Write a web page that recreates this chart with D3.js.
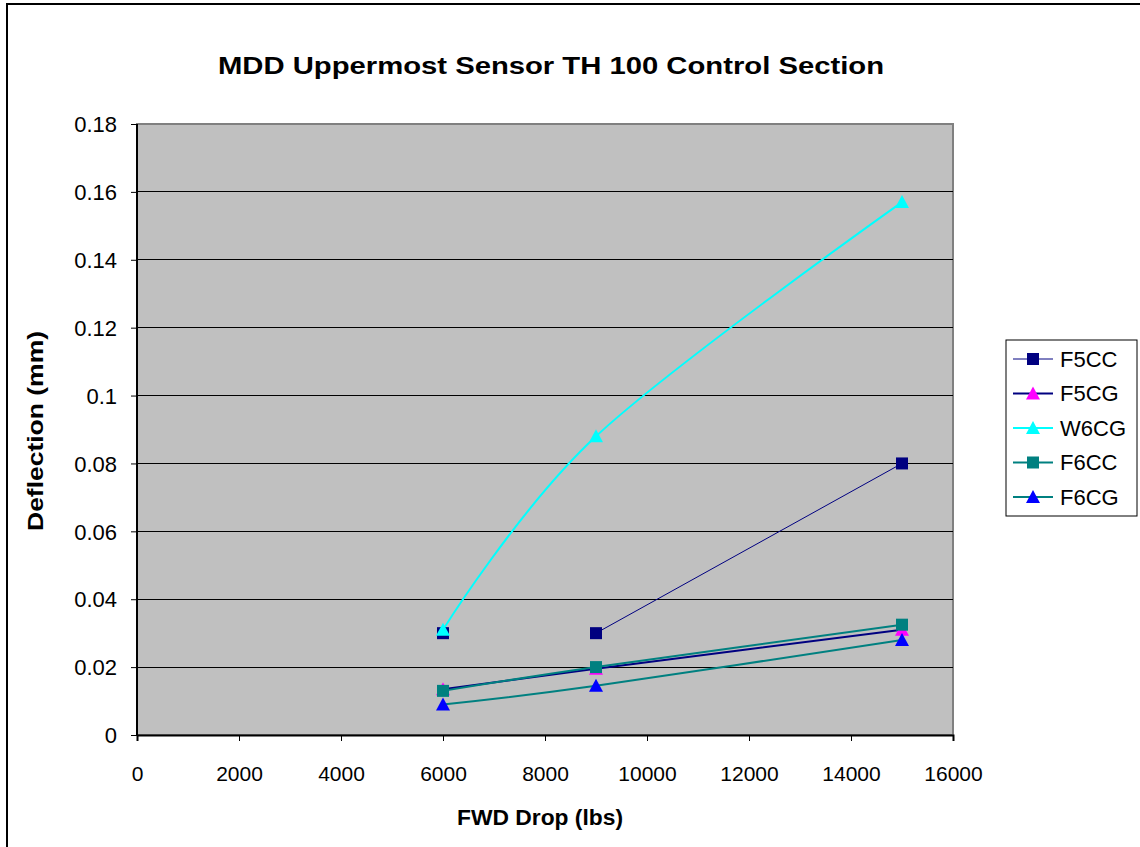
<!DOCTYPE html>
<html>
<head>
<meta charset="utf-8">
<script src="https://cdn.jsdelivr.net/npm/d3@7"></script>
<style>
  body { margin: 0; background: #fff; }
  text { font-family: "Liberation Sans", Arial, sans-serif; }
</style>
</head>
<body>
<div id="container"></div>
<script>
// MDD uppermost sensor deflection vs FWD drop load

const drops = [6000, 9000, 15000]
const seriesNames = ["F5CC", "F5CG", "W6CG", "F6CC", "F6CG"]
const f5cc = [0.030, 0.030, 0.080]
// no line drawn between the first two F5CC points
const f5ccLinked = [false, true, true]
const f5cg = [0.0135, 0.0195, 0.031]
const w6cg = [0.031, 0.088, 0.157]
const f6cc = [0.013, 0.020, 0.0325]
const f6cg = [0.009, 0.0145, 0.028]
const xTicks = [0, 2000, 4000, 6000, 8000, 10000, 12000, 14000, 16000]
const yTicks = [0, 0.02, 0.04, 0.06, 0.08, 0.1, 0.12, 0.14, 0.16, 0.18]

const width = 1140,
    height = 847
const plot = { left: 137, top: 124, right: 953, bottom: 735 }

const series = [
    { values: f5cc, line: "#000080", lineWidth: 1, marker: "square", fill: "#000080" },
    { values: f5cg, line: "#000080", lineWidth: 2, marker: "triangle", fill: "#ff00ff" },
    { values: w6cg, line: "#00ffff", lineWidth: 2, marker: "triangle", fill: "#00ffff" },
    { values: f6cc, line: "#008080", lineWidth: 2, marker: "square", fill: "#008080" },
    { values: f6cg, line: "#008080", lineWidth: 2, marker: "triangle", fill: "#0000ff" },
].map((s, i) => ({ ...s, name: seriesNames[i] }))

const svg = d3.select("#container").append("svg")
    .attr("width", width)
    .attr("height", height)

// outer chart border (only top and left visible in the frame)
svg.append("rect")
    .attr("x", 7).attr("y", 4)
    .attr("width", width + 20).attr("height", height + 20)
    .attr("fill", "#fff")
    .attr("stroke", "#000")
    .attr("stroke-width", 2)

const x = d3.scaleLinear().domain([0, 16000]).range([plot.left, plot.right])
const y = d3.scaleLinear().domain([0, 0.18]).range([plot.bottom, plot.top])

svg.append("rect")
    .attr("x", plot.left).attr("y", plot.top)
    .attr("width", plot.right - plot.left).attr("height", plot.bottom - plot.top)
    .attr("fill", "#c0c0c0")
    .attr("stroke", "#808080")
    .attr("stroke-width", 2)

// gridlines
svg.append("g").selectAll("line")
    .data(yTicks.filter(d => d > 0 && d < 0.18))
    .enter().append("line")
    .attr("x1", plot.left).attr("x2", plot.right)
    .attr("y1", d => y(d)).attr("y2", d => y(d))
    .attr("stroke", "#000")
    .attr("stroke-width", 1)
    .attr("shape-rendering", "crispEdges")

// axes
const yAxis = d3.axisLeft(y).tickValues(yTicks).tickSize(6).tickPadding(14)
    .tickFormat(d => d === 0 ? "0" : d3.format("~g")(d))
const xAxis = d3.axisBottom(x).tickValues(xTicks).tickSize(6).tickPadding(25)
    .tickFormat(d3.format("d"))

const yG = svg.append("g").attr("transform", `translate(${plot.left},0)`).call(yAxis)
const xG = svg.append("g").attr("transform", `translate(0,${plot.bottom})`).call(xAxis)
for (const g of [xG, yG]) {
    g.attr("font-size", null).attr("font-family", null)
    g.selectAll("path.domain").attr("stroke", "#000").attr("stroke-width", 2)
    g.selectAll(".tick line").attr("stroke", "#000")
    g.selectAll("text").attr("fill", "#000")
}
yG.select("path.domain").attr("d", `M0,${plot.top}V${plot.bottom}`)
yG.selectAll(".tick text").attr("dy", "0.35em").style("font-size", "22px")
xG.selectAll(".tick text").attr("dy", "0.71em").style("font-size", "21px")

// smoothed lines
const lineDraw = d3.line().x(d => x(d.x)).y(d => y(d.y)).curve(d3.curveCardinal)

const points = s => drops.map((xv, i) => ({
    x: xv, y: s.values[i],
    linked: s.name === "F5CC" ? f5ccLinked[i] : true
}))

const lines = svg.append("g")
series.forEach(s => {
    lines.append("path")
        .attr("d", lineDraw(points(s).filter(p => p.linked)))
        .attr("fill", "none")
        .attr("stroke", s.line)
        .attr("stroke-width", s.lineWidth)
})

function drawMarker(g, type, cx, cy, fill) {
    if (type === "square") {
        g.append("rect")
            .attr("x", cx - 6).attr("y", cy - 6)
            .attr("width", 12).attr("height", 12)
            .attr("fill", fill)
    } else {
        g.append("path")
            .attr("d", `M${cx},${cy - 7}L${cx + 7},${cy + 6}L${cx - 7},${cy + 6}Z`)
            .attr("fill", fill)
    }
}

const markers = svg.append("g")
series.forEach(s => {
    points(s).forEach(p => drawMarker(markers, s.marker, x(p.x), y(p.y), s.fill))
})

// title and axis titles
svg.append("text")
    .attr("x", 551).attr("y", 74)
    .attr("text-anchor", "middle")
    .style("font-size", "23px").style("font-weight", "bold")
    .attr("textLength", 666).attr("lengthAdjust", "spacingAndGlyphs")
    .text("MDD Uppermost Sensor TH 100 Control Section")

svg.append("text")
    .attr("x", 540).attr("y", 825)
    .attr("text-anchor", "middle")
    .style("font-size", "22px").style("font-weight", "bold")
    .attr("textLength", 166).attr("lengthAdjust", "spacingAndGlyphs")
    .text("FWD Drop (lbs)")

svg.append("text")
    .attr("transform", `translate(43,431) rotate(-90)`)
    .attr("text-anchor", "middle")
    .style("font-size", "22px").style("font-weight", "bold")
    .attr("textLength", 200).attr("lengthAdjust", "spacingAndGlyphs")
    .text("Deflection (mm)")

// legend
const legend = svg.append("g").attr("id", "legend")
    .attr("transform", "translate(1006,340)")
legend.append("rect")
    .attr("width", 131).attr("height", 176)
    .attr("fill", "#fff").attr("stroke", "#000").attr("stroke-width", 1)

series.forEach((s, i) => {
    const row = legend.append("g").attr("transform", `translate(0,${19 + i * 34.5})`)
    row.append("line")
        .attr("x1", 7).attr("x2", 47)
        .attr("stroke", s.line).attr("stroke-width", s.lineWidth)
    drawMarker(row, s.marker, 27, 0, s.fill)
    row.append("text")
        .attr("x", 54).attr("dy", "0.35em")
        .style("font-size", "22px")
        .text(s.name)
})
</script>
</body>
</html>
